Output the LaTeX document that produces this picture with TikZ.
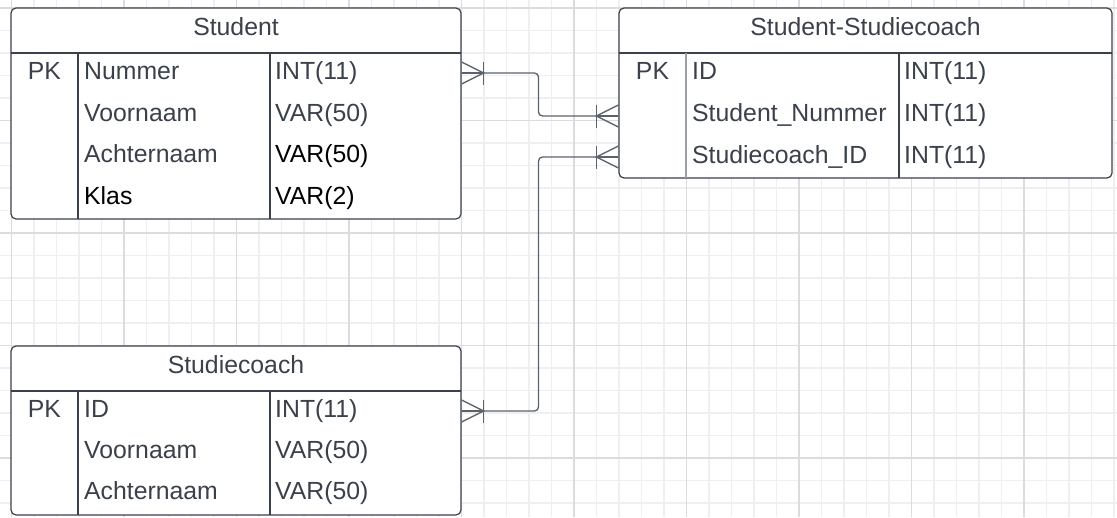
\documentclass[tikz,border=0pt]{standalone}
\usepackage{fontspec}
\setmainfont{Liberation Sans}
\usetikzlibrary{positioning, calc}
\definecolor{gridminor}{HTML}{EFEFEF}
\definecolor{gridmajor}{HTML}{DCDCDC}
\definecolor{erline}{HTML}{3A414A}
\definecolor{ertext}{HTML}{3A414A}
\definecolor{erdivide}{HTML}{9AA0A6}
\definecolor{relink}{HTML}{5A626C}
\newcommand{\erbox}[5]{%
  \node[draw=erline, line width=1.2pt, rounded corners=5pt, fill=white,
        minimum width=#4pt, minimum height=#5pt, inner sep=0pt] (#1) at (#2,#3) {};}
\tikzset{
  cell/.style={anchor=base west, inner sep=0pt, text=ertext},
  title/.style={anchor=base, inner sep=0pt, text=ertext},
  divider/.style={draw=erline, line width=1.2pt},
  relation/.style={draw=relink, line width=1.3pt, rounded corners=4pt},
  crowfoot/.pic={
    \draw[draw=relink, line width=1.3pt] (0,-11) -- (22,0) -- (0,11);
    \draw[draw=relink, line width=1.3pt] (0,0) -- (22,0);
    \draw[draw=relink, line width=1.3pt] (22,-11.5) -- (22,11.5);
  }
}

\begin{document}
\begin{tikzpicture}[x=1pt, y=-1pt, font=\fontsize{24.8}{29}\selectfont]
  \useasboundingbox (0,0) rectangle (1117,517);
  % grid
  \foreach \x in {11.5,34,...,1117} \draw[gridminor, line width=1.2pt] (\x,0) -- (\x,517);
  \foreach \y in {8,30.5,...,517} \draw[gridminor, line width=1.2pt] (0,\y) -- (1117,\y);
  \foreach \x in {11.5,124,...,1117} \draw[gridmajor, line width=1.5pt] (\x,0) -- (\x,517);
  \foreach \y in {8,120.5,...,517} \draw[gridmajor, line width=1.5pt] (0,\y) -- (1117,\y);

  % Student
  \erbox{student}{236}{113.5}{450}{211}
  \draw[divider] (11,53) -- (461,53);
  \draw[divider] (78,53) -- (78,219);
  \draw[divider] (270,53) -- (270,219);
  \node[title] (student-title) at (236,35.5) {Student};
  \node[anchor=base, inner sep=0pt, text=ertext] (stu-pk) at (44.5,79.5) {PK};
  \foreach \name/\type/\cn/\ct [count=\i] in {Nummer/INT(11)/ertext/ertext,
      Voornaam/VAR(50)/ertext/ertext, Achternaam/VAR(50)/ertext/black,
      Klas/VAR(2)/black/black} {
    \node[cell, text=\cn] (stu-n\i) at (84,37.8+41.7*\i) {\name};
    \node[cell, text=\ct] (stu-t\i) at (275,37.8+41.7*\i) {\type};
  }

  % Studiecoach
  \erbox{coach}{236}{430.5}{450}{169}
  \draw[divider] (11,391) -- (461,391);
  \draw[divider] (78,391) -- (78,515);
  \draw[divider] (270,391) -- (270,515);
  \node[title] (coach-title) at (236,373) {Studiecoach};
  \node[anchor=base, inner sep=0pt, text=ertext] (sc-pk) at (44.5,417.5) {PK};
  \foreach \name/\type [count=\i] in {ID/INT(11), Voornaam/VAR(50), Achternaam/VAR(50)} {
    \node[cell] (sc-n\i) at (84,376.5+41*\i) {\name};
    \node[cell] (sc-t\i) at (275,376.5+41*\i) {\type};
  }

  % Student-Studiecoach
  \erbox{link}{865.5}{93}{493}{170}
  \draw[divider] (619,53) -- (1112,53);
  \draw[divider, draw=erdivide] (686,53) -- (686,178);
  \draw[divider] (899,53) -- (899,178);
  \node[title] (link-title) at (865.5,35.5) {Student-Studiecoach};
  \node[anchor=base, inner sep=0pt, text=ertext] (lnk-pk) at (652.5,79.5) {PK};
  \foreach \name/\type [count=\i] in {ID/INT(11), Student\_Nummer/INT(11),
      Studiecoach\_ID/INT(11)} {
    \node[cell] (lnk-n\i) at (692,37.8+42*\i) {\name};
    \node[cell] (lnk-t\i) at (904,37.8+42*\i) {\type};
  }

  % relations
  \coordinate (stu-out) at (student.east |- 0,73);
  \coordinate (sc-out) at (coach.east |- 0,411);
  \coordinate (lnk-in1) at (link.west |- 0,116);
  \coordinate (lnk-in2) at (link.west |- 0,157);
  \coordinate (bend) at (538.5,0);
  \draw[relation] (stu-out) -- (stu-out -| bend) |- (lnk-in1);
  \draw[relation] (lnk-in2) -- (lnk-in2 -| bend) |- (sc-out);
  \pic at (stu-out) {crowfoot};
  \pic at (sc-out) {crowfoot};
  \pic[xscale=-1] at (lnk-in1) {crowfoot};
  \pic[xscale=-1] at (lnk-in2) {crowfoot};
\end{tikzpicture}
\end{document}
